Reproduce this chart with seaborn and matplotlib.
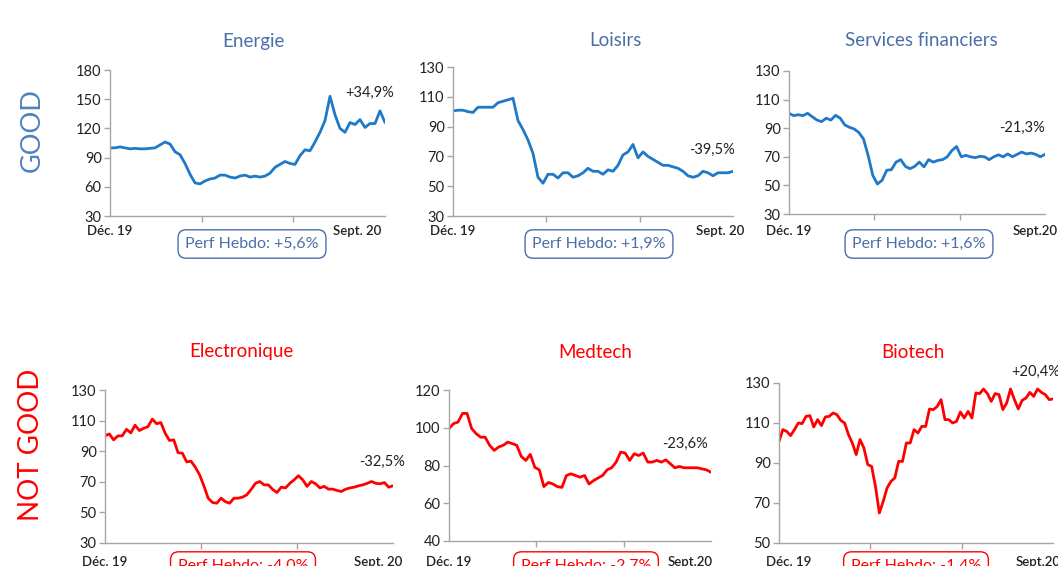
import numpy as np
import pandas as pd
import matplotlib
matplotlib.use("Agg")
import matplotlib.pyplot as plt
import seaborn as sns

sns.set_style("white")
plt.rcParams["font.family"] = ["Lato", "DejaVu Sans"]

# indices, base 100 at Dec. 19
energie = [100, 100, 101, 100, 99, 99.5, 99, 99, 99.5, 100, 103, 106, 104, 96, 93, 84, 73, 64,
           63, 66, 68, 69, 72, 72, 70, 69, 71, 72, 70, 71, 70, 71, 74, 80, 83, 86, 84, 83, 92,
           98, 97, 106, 116, 128, 153, 134, 120, 116, 126, 124, 129, 121, 125, 125, 138, 126]
loisirs = [100.5, 101, 101, 100, 99.5, 103, 103, 103, 103, 106, 107, 108, 109, 94, 88, 81, 72,
           56, 52, 58, 58, 55.5, 59, 59, 56, 57, 59, 62, 60, 60, 58, 61, 60, 64, 71, 73, 78, 69,
           73, 70, 68, 66, 64, 64, 63, 62, 60, 57, 56, 57, 60, 59, 57, 59, 59, 59, 60]
services = [100.4, 98.8, 99.4, 98.8, 100.4, 98, 95.7, 94.6, 97, 95.7, 99, 97, 92.3, 90.6, 89.5,
            87, 82.5, 71, 57, 51, 53.6, 60.6, 61, 66.3, 68, 63.3, 61.7, 63.3, 66.3, 63, 68, 66.3,
            67.5, 68, 70, 74.4, 77.2, 70, 71, 70, 69.4, 70.3, 70, 68, 70, 71.4, 70, 72, 70, 71.7,
            73.3, 72, 72.6, 71.7, 70, 71.7]
electronique = [100, 101.3, 97.4, 100, 100, 104.3, 102, 107, 103.5, 105, 106, 111, 108, 108.7,
                101.7, 97, 97.4, 89, 88.7, 83, 83.5, 79.6, 74.6, 67.4, 59.3, 56.5, 56, 59.3, 57,
                56, 59.3, 59.3, 60, 61.5, 65, 69, 70.2, 68, 68, 65, 63, 66.5, 66, 69, 71.3, 74,
                71.3, 67, 70.2, 68.7, 66, 67, 65.2, 65.2, 64.3, 63.7, 65.2, 66, 66.5, 67.4, 68,
                69, 70.2, 69, 68.7, 69.5, 66.5, 67.4]
medtech = [99.6, 102.2, 103, 107.6, 107.6, 99.6, 96.9, 95, 95, 90.7, 88, 89.8, 90.7, 92.4, 91.6,
           90.7, 84.8, 82.7, 85.9, 79, 77.7, 68.8, 71, 70.2, 68.8, 68.4, 74.7, 75.6, 74.7, 73.8,
           74.7, 70.2, 72, 73.4, 74.7, 77.7, 78.8, 81.8, 87.1, 86.6, 82.7, 86.2, 85.3, 86.6,
           81.8, 81.8, 82.7, 81.8, 83, 80.9, 78.8, 79.5, 78.8, 78.8, 78.8, 78.8, 78.2, 77.7, 76.4]
biotech = [100.8, 106.7, 105.8, 103.7, 106.7, 110, 109.7, 113.3, 113.7, 108, 111.7, 108.7, 113,
           113.3, 115, 114.2, 111.3, 110, 104.2, 100, 94.2, 101.7, 97.5, 89.2, 88.3, 78.3, 65,
           70.8, 77.5, 80.8, 82.5, 90.8, 90.8, 100, 100, 106.7, 105, 108.3, 108.3, 117, 116.7,
           118.3, 121.7, 111.7, 111.7, 110, 110.8, 115.5, 112.5, 115.8, 112.5, 125, 124.7, 127,
           124.7, 120.8, 124.7, 124.2, 116.7, 120, 127, 121.7, 117, 121.3, 122.5, 125.3, 123.3,
           127, 125.3, 124.2, 121.7, 122]

titles = ["Energie", "Loisirs", "Services financiers", "Electronique", "Medtech", "Biotech"]
series = [energie, loisirs, services, electronique, medtech, biotech]
perf_total = ["+34,9%", "-39,5%", "-21,3%", "-32,5%", "-23,6%", "+20,4%"]
perf_hebdo = ["+5,6%", "+1,9%", "+1,6%", "-4,0%", "-2,7%", "-1,4%"]
ylims = [(30, 180, 30), (30, 130, 20), (30, 130, 20), (30, 130, 20), (40, 120, 20), (50, 130, 20)]
end_labels = ["Sept. 20", "Sept. 20", "Sept.20", "Sept. 20", "Sept.20", "Sept.20"]

W, H = 1058, 566
fig = plt.figure(figsize=(W / 100, H / 100), dpi=100)


def px(x, y):
    return x / W, 1 - y / H


# axes boxes in pixels: left, right, top, bottom
boxes = [(110, 385, 70, 216), (453, 733, 67, 216), (789, 1045, 71, 214),
         (105, 393, 390, 543), (449, 711, 390, 541), (779, 1053, 383, 543)]
title_pos = [(253, 41), (615, 41), (921, 41), (241, 352), (595, 352), (913, 352)]
total_pos = [(370, 93), (712, 150), (1022, 128), (382, 462), (685, 444), (1036, 372)]
hebdo_pos = [(252, 244), (599, 244), (919, 244), (243, 566), (586, 566), (916, 566)]
dec_pos = [(110, 231), (453, 231), (789, 231), (105, 562), (449, 562), (789, 562)]
sept_pos = [(357, 231), (720, 231), (1035, 231), (378, 562), (690, 562), (1038, 562)]

blue_line = "#1f78c8"
blue_txt = "#4a6fa8"
red = "#ff0000"

for i in range(6):
    l, r, t, b = boxes[i]
    ax = fig.add_axes([l / W, 1 - b / H, (r - l) / W, (b - t) / H])
    vals = series[i]
    n = len(vals)
    df = pd.DataFrame({"jour": np.arange(n), "indice": vals})
    good = i < 3
    col = blue_line if good else red
    tcol = blue_txt if good else red
    sns.lineplot(data=df, x="jour", y="indice", ax=ax, color=col, lw=2.0)
    lo, hi, st = ylims[i]
    ax.set_ylim(lo, hi)
    ax.set_yticks(np.arange(lo, hi + 1, st))
    ax.set_xlim(0, n - 1)
    ax.set_xticks([(n - 1) / 3, 2 * (n - 1) / 3])
    ax.set_xticklabels([])
    ax.set_xlabel("")
    ax.set_ylabel("")
    for s in ["top", "right"]:
        ax.spines[s].set_visible(False)
    for s in ["left", "bottom"]:
        ax.spines[s].set_color("#a6a6a6")
        ax.spines[s].set_linewidth(1.0)
    ax.tick_params(axis="both", direction="out", length=4, width=1, color="#a6a6a6",
                   labelsize=10.5, labelcolor="#222222", pad=2)
    ax.tick_params(axis="y", left=True)
    ax.tick_params(axis="x", bottom=True)

    fig.text(*px(*title_pos[i]), titles[i], color=tcol, fontsize=13.5,
             ha="center", va="center")
    fig.text(*px(*total_pos[i]), perf_total[i], color="#222222", fontsize=10.5,
             ha="center", va="center")
    fig.text(*px(*dec_pos[i]), "Déc. 19", color="#222222", fontsize=9.5,
             fontweight="semibold", ha="center", va="center")
    fig.text(*px(*sept_pos[i]), end_labels[i], color="#222222", fontsize=9.5,
             fontweight="semibold", ha="center", va="center")
    fig.text(*px(*hebdo_pos[i]), "Perf Hebdo: " + perf_hebdo[i], color=tcol, fontsize=11.5,
             ha="center", va="center",
             bbox=dict(boxstyle="round,pad=0.45,rounding_size=0.5", fc="white", ec=tcol, lw=1.0))

fig.text(*px(32, 130), "GOOD", color="#4f81bd", fontsize=19.5, rotation=90,
         ha="center", va="center")
fig.text(*px(31, 445), "NOT GOOD", color=red, fontsize=20, rotation=90,
         ha="center", va="center")

fig.savefig("out.png", dpi=100)
